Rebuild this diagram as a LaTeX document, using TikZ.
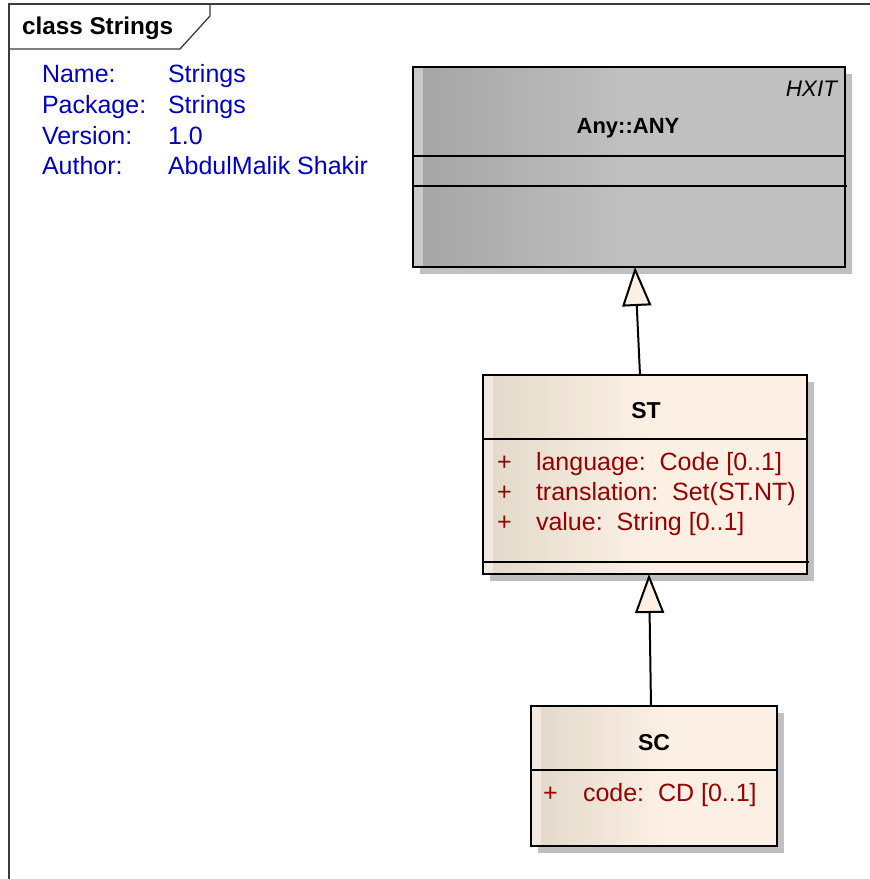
\documentclass[tikz,border=0pt]{standalone}
\usepackage{fontspec}
\setmainfont{Liberation Sans}
\usetikzlibrary{arrows.meta,shadows}
\definecolor{infoblue}{RGB}{0,0,190}
\definecolor{attred}{RGB}{150,0,0}
\definecolor{anyM}{RGB}{192,192,192}
\definecolor{anyL}{RGB}{166,166,166}
\definecolor{anyS}{RGB}{202,202,202}
\definecolor{crM}{RGB}{251,240,227}
\definecolor{crL}{RGB}{228,218,204}
\definecolor{crS}{RGB}{241,233,221}
\definecolor{shadowc}{RGB}{192,192,192}
\definecolor{framec}{RGB}{60,60,60}
\begin{document}
\begin{tikzpicture}[x=1pt,y=-1pt,
  classbox/.style={draw=black, line width=2pt, inner sep=0pt, outer sep=0pt,
    anchor=north west,
    general shadow={fill=shadowc, draw=none, shadow xshift=7pt, shadow yshift=-7pt}},
  gradfill/.style n args={4}{fill=#1, path picture={
      \foreach \k in {0,...,39}{
        \pgfmathsetmacro\pc{100-2.5*\k}
        \fill[#2!\pc!#1]
          ([xshift={(10+\k*(#4-10)/40)*1pt}]path picture bounding box.north west) rectangle
          ([xshift={(10+(\k+1)*(#4-10)/40+0.6)*1pt}]path picture bounding box.south west);
      }
      \fill[#3] (path picture bounding box.north west) rectangle
        ([xshift=10pt]path picture bounding box.south west);}},
  sepline/.style={draw=black, line width=2pt},
  framel/.style={draw=framec, line width=1.3pt},
  gen/.style={draw=black, line width=2pt,
    -{Triangle[length=39pt, width=29pt, fill=crM, line join=miter]}},
  txt/.style={inner sep=0pt, outer sep=0pt, anchor=base west},
  info/.style={txt, text=infoblue, font=\fontsize{25}{28}\selectfont},
  attr/.style={txt, text=attred, font=\fontsize{25}{28}\selectfont},
  cname/.style={inner sep=0pt, outer sep=0pt, anchor=base, font=\fontsize{23}{28}\selectfont\bfseries}
]
\useasboundingbox (0,0) rectangle (870,879);
\fill[white] (0,0) rectangle (870,879);

% frame
\draw[framel] (870,4) -- (9,4) -- (9,879);
\draw[framel] (210,4) -- (210,16) -- (180,49) -- (9,49);
\node[txt, font=\fontsize{24.3}{28}\selectfont\bfseries] (ftitle) at (22,34) {class Strings};

% info
\node[info] (l1) at (42,82) {Name:};
\node[info] (v1) at (168,82) {Strings};
\node[info] (l2) at (42,113) {Package:};
\node[info] (v2) at (168,113) {Strings};
\node[info] (l3) at (42,144) {Version:};
\node[info] (v3) at (168,144) {1.0};
\node[info] (l4) at (42,174) {Author:};
\node[info] (v4) at (168,174) {AbdulMalik Shakir};

% Any::ANY
\node[classbox, gradfill={anyM}{anyL}{anyS}{210}, minimum width=432pt, minimum height=200pt] (any) at (413,67) {};
\draw[sepline] (413,156) -- (845,156);
\draw[sepline] (413,186) -- (847,186);
\node[txt, anchor=base east, font=\fontsize{22.5}{28}\selectfont\itshape] (hxit) at (837,96) {HXIT};
\node[cname, font=\fontsize{22}{28}\selectfont\bfseries] (anyname) at (628,133) {Any::ANY};

% ST
\node[classbox, gradfill={crM}{crL}{crS}{160}, minimum width=324pt, minimum height=199pt] (st) at (483,375) {};
\draw[sepline] (483,439) -- (807,439);
\draw[sepline] (483,562) -- (809,562);
\node[cname] (stname) at (646,418) {ST};
\node[attr] (stp1) at (497,470) {+};
\node[attr] (sta1) at (536,470) {language:\ \ Code [0..1]};
\node[attr] (stp2) at (497,500) {+};
\node[attr] (sta2) at (536,500) {translation:\ \ Set(ST.NT)};
\node[attr] (stp3) at (497,530) {+};
\node[attr] (sta3) at (536,530) {value:\ \ String [0..1]};

% SC
\node[classbox, gradfill={crM}{crL}{crS}{130}, minimum width=246pt, minimum height=140pt] (sc) at (531,706) {};
\draw[sepline] (531,770) -- (777,770);
\node[cname] (scname) at (654,750) {SC};
\node[attr] (scp1) at (543,801) {+};
\node[attr] (sca1) at (583,801) {code:\ \ CD [0..1]};

% generalizations
\draw[gen] ([xshift=-5pt]st.north) -- ([xshift=6pt]any.south);
\draw[gen] ([xshift=-3pt]sc.north) -- ([xshift=4pt]st.south);
\end{tikzpicture}
\end{document}
